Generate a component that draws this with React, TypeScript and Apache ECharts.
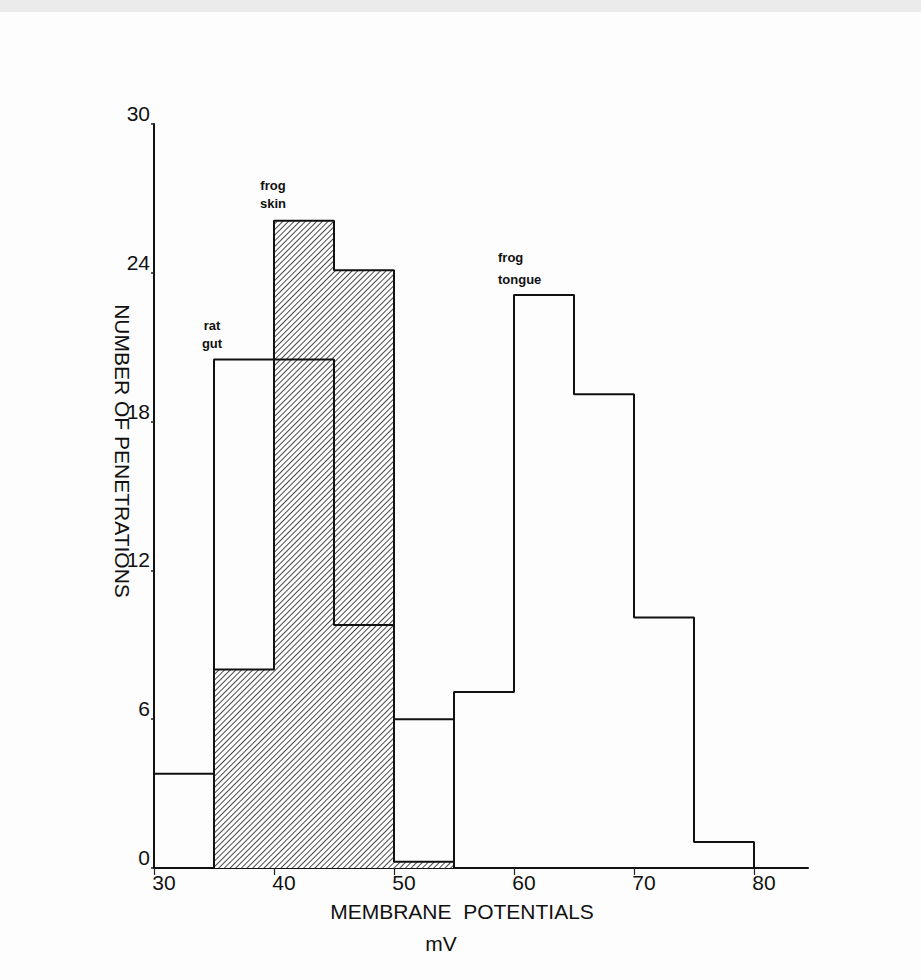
import React, { useEffect, useRef } from "react";
import * as echarts from "echarts";

// ---- data ----
const binWidth = 5; // mV
const ratGutStart = 30;
const ratGutCounts = [3.8, 20.5, 20.5, 9.8, 6.0];
const frogSkinStart = 35;
const frogSkinCounts = [8.0, 26.1, 24.1, 0.25];
const frogTongueStart = 55;
const frogTongueCounts = [7.1, 23.1, 19.1, 10.1, 1.05];

const xTicks = [30, 40, 50, 60, 70, 80];
const yTicks = [0, 6, 12, 18, 24, 30];
const xMin = 30;
const xMax = 84.5;
const yMax = 30;

const xTitle = "MEMBRANE  POTENTIALS";
const xUnit = "mV";
const yTitle = "NUMBER OF PENETRATIONS";

function stepPoints(start: number, width: number, counts: number[]) {
  const pts: number[][] = [[start, 0]];
  counts.forEach((c, i) => {
    const x0 = start + i * width;
    pts.push([x0, c], [x0 + width, c]);
  });
  pts.push([start + counts.length * width, 0]);
  return pts;
}

const FONT = "Liberation Sans, Arial, sans-serif";

export default function App() {
  const ref = useRef<HTMLDivElement>(null);
  useEffect(() => {
    if (!ref.current) return;
    const chart = echarts.init(ref.current, undefined, { renderer: "svg" });
    const lineStyle = { color: "#111", width: 2 };
    chart.setOption({
      animation: false,
      backgroundColor: "#fdfdfd",
      grid: { left: 154, right: 113, top: 124, bottom: 112, containLabel: false },
      xAxis: {
        type: "value",
        min: xMin,
        max: xMax,
        interval: 10,
        name: xTitle,
        nameLocation: "middle",
        nameGap: 33,
        nameTextStyle: {
          fontFamily: FONT,
          fontSize: 21,
          color: "#111",
          padding: [0, 38, 0, 0],
        },
        axisLine: { show: true, onZero: false, lineStyle: { color: "#111", width: 2 } },
        axisTick: {
          show: true,
          length: 7,
          customValues: xTicks,
          lineStyle: { color: "#222", width: 1.2 },
        },
        axisLabel: {
          customValues: xTicks,
          fontFamily: FONT,
          fontSize: 21,
          color: "#111",
          margin: 4,
          padding: [0, 0, 0, 20],
        },
        splitLine: { show: false },
      },
      yAxis: {
        type: "value",
        min: 0,
        max: yMax,
        interval: 6,
        axisLine: { show: true, lineStyle: { color: "#111", width: 2 } },
        axisTick: {
          show: true,
          length: 3,
          customValues: yTicks,
          lineStyle: { color: "#222", width: 1.5 },
        },
        axisLabel: {
          customValues: yTicks,
          fontFamily: FONT,
          fontSize: 21,
          color: "#111",
          margin: 4,
          verticalAlign: "bottom",
        },
        splitLine: { show: false },
      },
      series: [
        {
          name: "frog skin",
          type: "line",
          data: stepPoints(frogSkinStart, binWidth, frogSkinCounts),
          symbol: "none",
          z: 2,
          lineStyle,
          itemStyle: {
            color: "#111",
            decal: {
              symbol: "rect",
              symbolSize: 1,
              color: "#4a4a4a",
              backgroundColor: "#ffffff",
              dashArrayX: [1, 0],
              dashArrayY: [1, 2.2],
              rotation: -Math.PI / 4,
            },
          },
          areaStyle: { color: "#ffffff", opacity: 1 },
        },
        {
          name: "rat gut",
          type: "line",
          data: stepPoints(ratGutStart, binWidth, ratGutCounts),
          symbol: "none",
          z: 3,
          lineStyle,
          itemStyle: { color: "#111" },
        },
        {
          name: "frog tongue",
          type: "line",
          data: stepPoints(frogTongueStart, binWidth, frogTongueCounts),
          symbol: "none",
          z: 3,
          lineStyle,
          itemStyle: { color: "#111" },
        },
      ],
      graphic: [
        { type: "rect", left: 0, top: 0, shape: { width: 921, height: 12 }, style: { fill: "#ebebeb" }, z: -1 },
        {
          type: "text",
          x: 122,
          y: 451,
          rotation: -Math.PI / 2,
          style: {
            text: yTitle,
            font: `21px ${FONT}`,
            fill: "#111",
            textAlign: "center",
            textVerticalAlign: "middle",
            verticalAlign: "middle",
          },
        },
        {
          type: "text",
          x: 212,
          y: 316,
          style: { text: "rat\ngut", font: `bold 13px ${FONT}`, fill: "#111", textAlign: "center", lineHeight: 18 },
        },
        {
          type: "text",
          x: 273,
          y: 176,
          style: { text: "frog\nskin", font: `bold 13px ${FONT}`, fill: "#111", textAlign: "center", lineHeight: 18 },
        },
        {
          type: "text",
          x: 498,
          y: 246,
          style: { text: "frog\ntongue", font: `bold 13px ${FONT}`, fill: "#111", textAlign: "left", lineHeight: 22 },
        },
        {
          type: "text",
          x: 441,
          y: 933,
          style: { text: xUnit, font: `21px ${FONT}`, fill: "#111", textAlign: "center" },
        },
      ],
    });
    return () => chart.dispose();
  }, []);
  return (
    <div
      ref={ref}
      style={{ position: "absolute", left: 0, top: 0, width: 921, height: 980 }}
    />
  );
}
